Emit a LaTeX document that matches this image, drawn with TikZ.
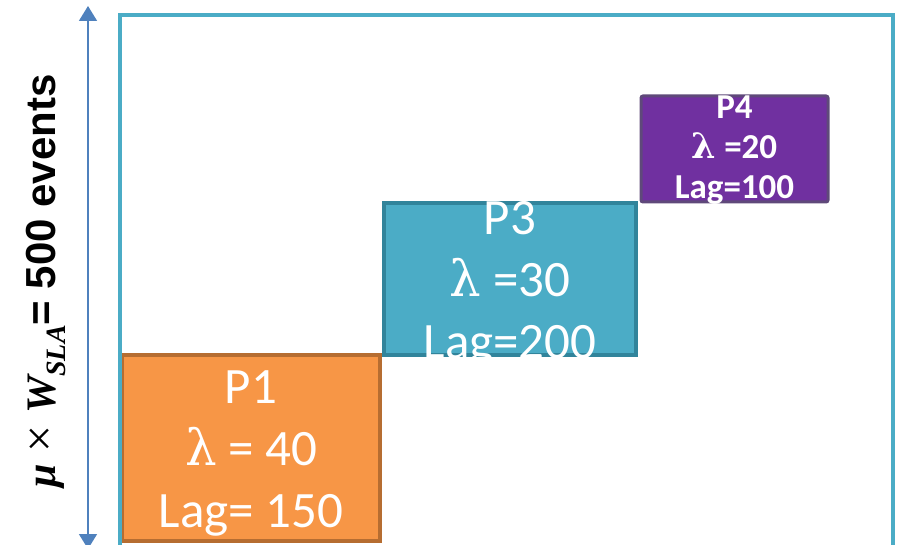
\documentclass[tikz,border=0pt]{standalone}
\usepackage{fontspec}
\setmainfont{Carlito}
\newfontfamily\labelsans{Liberation Sans}
\newfontfamily\labelserif{Liberation Serif}
\newfontfamily\lambdaserif{DejaVu Serif}
\usetikzlibrary{positioning,arrows.meta}
\definecolor{frameblue}{HTML}{4BACC6}
\definecolor{arrowblue}{HTML}{4F81BD}
\definecolor{porange}{HTML}{F79646}
\definecolor{porangeline}{HTML}{B66D31}
\definecolor{pteal}{HTML}{4BACC6}
\definecolor{ptealline}{HTML}{31849B}
\definecolor{ppurple}{HTML}{7030A0}
\definecolor{ppurpleline}{HTML}{5F497A}
\newcommand\lam[1]{{\lambdaserif\fontsize{#1}{0}\selectfont λ}}

\begin{document}
\begin{tikzpicture}[x=1pt,y=-1pt,
  part/.style={draw, line width=4pt, inner sep=0pt},
  parttext/.style={text=white, align=center, inner sep=0pt}]
\useasboundingbox (0,0) rectangle (899,545);
\clip (0,0) rectangle (899,545);
% partitions
\node[part, fill=porange, draw=porangeline, minimum width=258pt, minimum height=186pt] (p1) at (251,448) {};
\node[part, fill=pteal, draw=ptealline, minimum width=252pt, minimum height=152pt] (p3) at (510,279) {};
\node[part, fill=ppurple, draw=ppurpleline, line width=3pt, rounded corners=2pt, minimum width=187pt, minimum height=106pt] (p4) at (734.5,149) {};
\node[parttext, font=\fontsize{51}{62}\selectfont, below=17pt of p1.north] (p1txt) {P1\\\lam{50} = 40\\Lag= 150};
\node[parttext, font=\fontsize{51}{62}\selectfont, below=0pt of p3.north] (p3txt) {P3\\\lam{50} =30\\Lag=200};
\node[parttext, font=\fontsize{35}{40}\selectfont\bfseries, below=1pt of p4.north] (p4txt) {P4\\\lam{35}\bfseries{} =20\\Lag=100};
% frame
\draw[frameblue, line width=4pt] (120,560) -- (120,15) -- (893,15) -- (893,560);
% window arrow
\coordinate (wtop) at (88,6);
\coordinate (wbot) at (88,549);
\draw[arrowblue, line width=1.5pt, {Triangle[length=15pt,width=18pt]}-{Triangle[length=15pt,width=18pt]}] (wtop) -- (wbot);
\node[rotate=90, anchor=base, font=\fontsize{42}{42}\selectfont\labelsans\bfseries] (wlabel) at (55,281)
  {{\labelserif\itshape μ} {\labelserif\mdseries\fontsize{48}{48}\selectfont ×} {\labelserif\itshape W\raisebox{-0.25em}{\fontsize{28}{28}\selectfont SLA}}= 500 events};
\end{tikzpicture}
\end{document}
